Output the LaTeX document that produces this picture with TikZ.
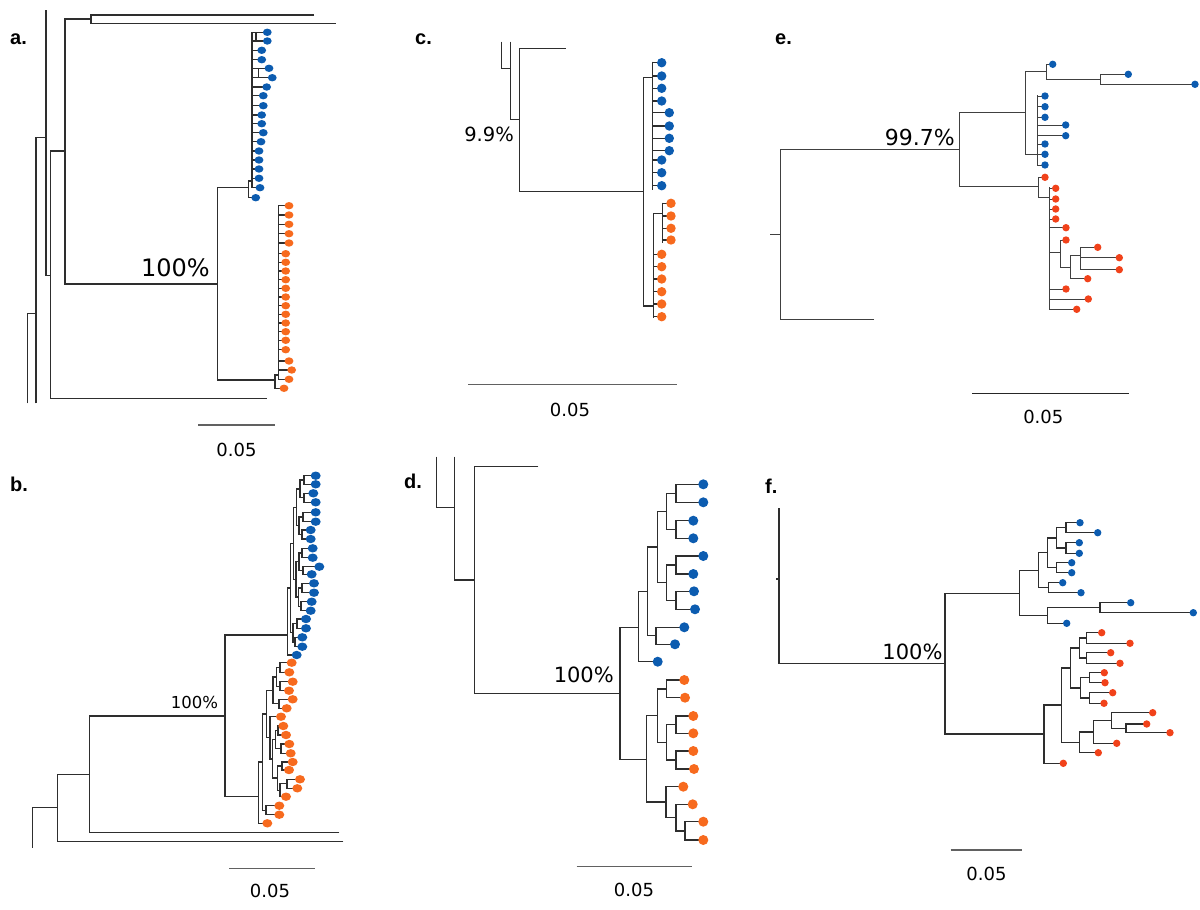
\documentclass[tikz,border=0pt]{standalone}
\usepackage{fontspec}
\setmainfont{DejaVu Sans}
\newfontfamily\labelfont{Liberation Sans}
\usepackage{tikz}
\usetikzlibrary{positioning, calc}

\definecolor{blueleaf}{RGB}{12,92,176}
\definecolor{orangeleaf}{RGB}{247,106,30}
\definecolor{redleaf}{RGB}{241,66,26}

\tikzset{
  branch/.style={line width=1.35pt, draw=black!82},
  scalebar/.style={line width=1.4pt, draw=black!62},
  panellabel/.style={font=\labelfont\bfseries\fontsize{20}{24}\selectfont, anchor=base west, inner sep=0pt},
  support/.style={font=\fontsize{#1}{#1}\selectfont, anchor=base east, inner sep=0pt},
  scaletext/.style={font=\fontsize{18}{20}\selectfont, anchor=base, inner sep=0pt},
}

% bracket of one internal node: node x, first child (x,y), second child (x,y)
\newcommand{\hook}[5]{\draw[branch] (#2,#3) -| (#1,#5) -- (#4,#5);}

\begin{document}
\begin{tikzpicture}[x=1pt, y=-1pt]
    \fill[white] (0,0) rectangle (1200,910);
    \useasboundingbox (0,0) rectangle (1200,910);

    % ---------------- panel a ----------------
    \node[panellabel] (lab-a) at (10,45) {a.};
    \draw[branch] (27.3,403.3) |- (36,313.3);
    \draw[branch] (36,403.3) |- (46,137.3);
    \draw[branch] (46,10) |- (50.7,275.7);
    \draw[branch] (266.7,398.3) -| (50.7,151) -- (65,151);
    \draw[branch] (91,19) -| (65,284) -- (217.3,284);
    \draw[branch] (314,15) -| (91,23.3) -- (336,23.3);
    \draw[branch] (248.3,187.7) -| (217.3,380) -- (275,380);

    % blue clade
    \draw[branch] (252,32.3) -- (252,187.7);
    \draw[branch] (252,181) -| (248.3,197.7) -- (255.7,197.7);
    \draw[branch] (256,32.3) -- (256,41);
    \draw[branch] (258.5,68.3) -- (258.5,77.7);
    \foreach \x/\y in {267.3/32.3,267.3/41,261.7/50.3,261.7/59.7,269/68.3,272.3/77.7,
        266.7/87,263.3/95.7,263.3/105.7,261.7/115,261.7/123.7,263.3/132.7,261/141.7,
        259/151,259/160,259/169,259/178.3,260/187.7,255.7/197.7}{
      \draw[branch] (252,\y) -- (\x,\y);
      \fill[blueleaf] (\x,\y) ellipse [x radius=4.4pt, y radius=3.7pt];
    }

    % orange clade
    \draw[branch] (278.3,205.7) -- (278.3,379.3);
    \draw[branch] (278.3,375) -| (275,388.3) -- (284,388.3);
    \foreach \x/\y in {289/205.7,289/215,289/224.3,289/233.7,289/243,285.7/253.7,
        285.7/262.3,285.7/271,285.7/279.7,285.7/288.3,285.7/297,285.7/305.7,
        285.7/314.3,285.7/323,285.7/331.7,285.7/340.3,285.7/349.7,289/361,
        291.7/370,289/379.3,284/388.3}{
      \draw[branch] (278.3,\y) -- (\x,\y);
      \fill[orangeleaf] (\x,\y) ellipse [x radius=4.4pt, y radius=3.7pt];
    }

    \node[support=24] (sup-a) at (210,276) {100\%};
    \draw[scalebar] (198,425) -- (275,425);
    \node[scaletext] (bar-a) at (236.5,456.7) {0.05};

    % ---------------- panel b ----------------
    \node[panellabel] (lab-b) at (10,491) {b.};
    \draw[branch] (32.7,847.7) |- (57.3,807.7);
    \draw[branch] (343.3,841.7) -| (57.3,774.3) -- (89.3,774.3);
    \draw[branch] (339.3,832.7) -| (89.3,716) -- (225,716);
    \draw[branch] (287.3,635) -| (225,796.7) -- (258.3,796.7);

    % blue clade
    \hook{304}{315.7}{475.7}{315.7}{484.3}
    \hook{304}{313.3}{493.3}{315.7}{502.3}
    \hook{300}{304}{480}{304}{497.8}
    \hook{303}{315.7}{512.3}{315.7}{521.7}
    \hook{302}{310.7}{530}{310.7}{539}
    \hook{299}{303}{517}{302}{534.5}
    \hook{296.5}{300}{488.9}{299}{525.8}
    \hook{302}{312.7}{548.3}{312.7}{557.7}
    \hook{303}{319.3}{566.7}{311.7}{574.3}
    \hook{299}{302}{553}{303}{570.5}
    \hook{302}{314}{583.3}{314}{592.7}
    \hook{301}{311.7}{601.7}{310.7}{610.7}
    \hook{298.5}{302}{588}{301}{606.2}
    \hook{296}{299}{561.8}{298.5}{597.1}
    \hook{293.5}{296.5}{507.3}{296}{579.4}
    \hook{297}{306}{619}{306}{628.3}
    \hook{295}{302.3}{637.3}{302.3}{646.7}
    \hook{293}{297}{623.7}{295}{642}
    \hook{290.5}{293.5}{543.4}{293}{632.8}
    \hook{287.3}{290.5}{588}{296.7}{655}
    \foreach \x/\y in {315.7/475.7,315.7/484.3,313.3/493.3,315.7/502.3,315.7/512.3,
        315.7/521.7,310.7/530,310.7/539,312.7/548.3,312.7/557.7,319.3/566.7,
        311.7/574.3,314/583.3,314/592.7,311.7/601.7,310.7/610.7,306/619,306/628.3,
        302.3/637.3,302.3/646.7,296.7/655}
      \fill[blueleaf] (\x,\y) ellipse [x radius=5pt, y radius=4.2pt];

    % orange clade
    \hook{280}{291.7}{662.7}{289.3}{672.3}
    \hook{280}{292.7}{681.7}{289}{690.7}
    \hook{276.5}{280}{667.5}{280}{686.2}
    \hook{279}{292.7}{699.3}{286.7}{708.3}
    \hook{273}{276.5}{676.9}{279}{703.8}
    \hook{278}{283.3}{726}{286}{735}
    \hook{281}{289.3}{744}{290.7}{753.3}
    \hook{275.5}{278}{730.5}{281}{748.7}
    \hook{282}{292.7}{762}{289}{770}
    \hook{287}{300}{779.3}{297.3}{788.3}
    \hook{280}{287}{783.8}{286}{796.7}
    \hook{277.5}{282}{766}{280}{790.3}
    \hook{272.5}{275.5}{739.6}{277.5}{778.1}
    \hook{270}{281}{716.7}{272.5}{758.9}
    \hook{266.5}{273}{690.3}{270}{737.8}
    \hook{266}{279.3}{805.7}{279.3}{814.7}
    \hook{262.3}{266.5}{714.1}{266}{810.2}
    \hook{258.3}{262.3}{762.1}{267.3}{823.3}
    \foreach \x/\y in {291.7/662.7,289.3/672.3,292.7/681.7,289/690.7,292.7/699.3,
        286.7/708.3,281/716.7,283.3/726,286/735,289.3/744,290.7/753.3,292.7/762,
        289/770,300/779.3,297.3/788.3,286/796.7,279.3/805.7,279.3/814.7,267.3/823.3}
      \fill[orangeleaf] (\x,\y) ellipse [x radius=5pt, y radius=4.2pt];

    \node[support=16.5] (sup-b) at (218.3,708.3) {100\%};
    \draw[scalebar] (229.3,868.3) -- (315,868.3);
    \node[scaletext] (bar-b) at (270,897.7) {0.05};

    % ---------------- panel c ----------------
    \node[panellabel] (lab-c) at (415,44) {c.};
    \draw[branch] (501.7,41.7) |- (510.7,68.3);
    \draw[branch] (510.7,41.7) |- (519.3,119.3);
    \draw[branch] (565.7,48.3) -| (519.3,191.7) -- (643.3,191.7);
    \draw[branch] (652.3,77.3) -| (643.3,306) -- (653.3,306);

    % blue clade
    \draw[branch] (652.3,61.7) -- (652.3,190);
    \foreach \x/\y in {661.7/62.7,661.7/76,661.7/88.3,661.7/101,669.3/112.7,669.3/126,
        669.3/138.3,669.3/150.7,661.7/160,661.7/172.7,661.7/185.7}{
      \draw[branch] (652.3,\y) -- (\x,\y);
      \fill[blueleaf] (\x,\y) circle [radius=4.7pt];
    }

    % orange clade
    \draw[branch] (662.7,213.3) -| (653.3,318.3);
    \draw[branch] (662.7,202.7) -- (662.7,242.7);
    \foreach \x/\y in {671/203.3,671/216,671/228.3,671/240}{
      \draw[branch] (662.7,\y) -- (\x,\y);
      \fill[orangeleaf] (\x,\y) circle [radius=4.7pt];
    }
    \foreach \x/\y in {661.7/254.3,661.7/266.7,661.7/279,661.7/291.7,661.7/304,661.7/316.7}{
      \draw[branch] (653.3,\y) -- (\x,\y);
      \fill[orangeleaf] (\x,\y) circle [radius=4.7pt];
    }

    \node[support=19.5] (sup-c) at (514,141.7) {9.9\%};
    \draw[scalebar, line width=1pt] (468.3,384.3) -- (676.7,384.3);
    \node[scaletext] (bar-c) at (570,416) {0.05};

    % ---------------- panel d ----------------
    \node[panellabel] (lab-d) at (404,488) {d.};
    \draw[branch] (436.7,456.7) |- (454.7,507.3);
    \draw[branch] (454.7,456.7) |- (474.3,580);
    \draw[branch] (538.3,466.7) -| (474.3,693.3) -- (620,693.3);
    \draw[branch] (638.3,627.3) -| (620,759.3) -- (646.7,759.3);

    % blue clade
    \hook{676}{703.3}{484.3}{703.3}{502.3}
    \hook{676}{693.3}{520.7}{693.3}{538.3}
    \hook{666.7}{676}{493.3}{676}{529.5}
    \hook{676}{703.3}{556}{693.3}{574}
    \hook{676}{694}{591.3}{695}{609.3}
    \hook{666.7}{676}{565}{676}{600.3}
    \hook{657.3}{666.7}{511.4}{666.7}{582.7}
    \hook{656}{684.3}{627.3}{675}{644.3}
    \hook{647.3}{657.3}{547}{656}{635.8}
    \hook{638.3}{647.3}{591.4}{657.7}{661.7}
    \foreach \x/\y in {703.3/484.3,703.3/502.3,693.3/520.7,693.3/538.3,703.3/556,
        693.3/574,694/591.3,695/609.3,684.3/627.3,675/644.3,657.7/661.7}
      \fill[blueleaf] (\x,\y) circle [radius=5pt];

    % orange clade
    \hook{666.7}{684.3}{680}{685}{697.7}
    \hook{676}{693.3}{716}{693.3}{733.3}
    \hook{676}{693.3}{751}{694}{769}
    \hook{666.7}{676}{724.7}{676}{760}
    \hook{657.3}{666.7}{688.9}{666.7}{742.3}
    \hook{685}{703.3}{821.7}{703.3}{840}
    \hook{676}{692.7}{804.3}{685}{830.9}
    \hook{666}{683.3}{786.7}{676}{817.6}
    \hook{646.7}{657.3}{715.6}{666}{802.1}
    \foreach \x/\y in {684.3/680,685/697.7,693.3/716,693.3/733.3,693.3/751,694/769,
        683.3/786.7,692.7/804.3,703.3/821.7,703.3/840}
      \fill[orangeleaf] (\x,\y) circle [radius=5pt];

    \node[support=21] (sup-d) at (614,682.3) {100\%};
    \draw[scalebar] (576.7,866.7) -- (691.7,866.7);
    \node[scaletext] (bar-d) at (634,896.7) {0.05};

    % ---------------- panel e ----------------
    \node[panellabel] (lab-e) at (775,45) {e.};
    \begin{scope}[branch/.style={line width=1pt, draw=black!75}]
    \draw[branch] (770,234.3) -- (780,234.3);
    \draw[branch] (874,319.3) -| (780,149.3) -- (959.3,149.3);
    \draw[branch] (1025.7,112.7) -| (959.3,186.7) -- (1038.3,186.7);

    % blue clade
    \hook{1100.7}{1128.3}{74.3}{1195}{84.3}
    \hook{1046}{1052.7}{64.3}{1100.7}{79.3}
    \draw[branch] (1046,71.8) -| (1025.7,154) -- (1037.3,154);
    \draw[branch] (1037.3,95) -- (1037.3,166);
    \foreach \x/\y in {1045/96,1045/106.7,1045/117.3,1065.7/125,1065.7/135.7,
        1045/144,1045/154.3,1045/165}
      \draw[branch] (1037.3,\y) -- (\x,\y);

    % red clade
    \draw[branch] (1045,177.3) -| (1038.3,197.3) -- (1049.3,197.3);
    \draw[branch] (1049.3,187.3) -- (1049.3,309.3);
    \foreach \x/\y in {1055.7/188.3,1055.7/199,1055.7/209,1055.7/219,1066/227.7,
        1066/289,1088.3/299,1076.7/309.3,1060/252.3}
      \draw[branch] (1049.3,\y) -- (\x,\y);
    \draw[branch] (1066,240) -| (1060,267.7) -- (1070.7,267.7);
    \draw[branch] (1080.7,255.7) -| (1070.7,278.7) -- (1087.7,278.7);
    \draw[branch] (1080.7,247.3) -- (1080.7,269.7);
    \foreach \x/\y in {1097.7/247.3,1119.3/257.7,1119.3/269.7}
      \draw[branch] (1080.7,\y) -- (\x,\y);
    \end{scope}
    \foreach \x/\y in {1052.7/64.3,1128.3/74.3,1195/84.3,1045/96,1045/106.7,1045/117.3,
        1065.7/125,1065.7/135.7,1045/144,1045/154.3,1045/165}
      \fill[blueleaf] (\x,\y) circle [radius=3.7pt];
    \foreach \x/\y in {1045/177.3,1055.7/188.3,1055.7/199,1055.7/209,1055.7/219,
        1066/227.7,1066/240,1097.7/247.3,1119.3/257.7,1119.3/269.7,1087.7/278.7,
        1066/289,1088.3/299,1076.7/309.3}
      \fill[redleaf] (\x,\y) circle [radius=3.7pt];

    \node[support=22] (sup-e) at (955,145.3) {99.7\%};
    \draw[scalebar, draw=black!85] (972.3,393.3) -- (1129.3,393.3);
    \node[scaletext] (bar-e) at (1043.3,423.3) {0.05};

    % ---------------- panel f ----------------
    \node[panellabel] (lab-f) at (765,493) {f.};
    \draw[branch] (779,508.3) |- (945,663.3);
    \draw[branch] (776,579) -- (779,579);
    \draw[branch] (1019.3,593.3) -| (945,734) -- (1044,734);

    % blue clade
    \hook{1066}{1080}{522.7}{1097.7}{532.7}
    \hook{1066}{1079.3}{542.7}{1079.3}{553.3}
    \hook{1056.7}{1066}{527.7}{1066}{548}
    \hook{1056.7}{1071.7}{562.7}{1071.7}{572.7}
    \hook{1047.3}{1056.7}{537.9}{1056.7}{567.7}
    \hook{1048.3}{1062.7}{582.7}{1081}{592.7}
    \hook{1038.3}{1047.3}{552.8}{1048.3}{587.7}
    \hook{1100}{1130.7}{602.7}{1193.3}{612.7}
    \hook{1047.3}{1100}{607.7}{1066.7}{623.3}
    \hook{1019.3}{1038.3}{570.3}{1047.3}{615.5}
    \foreach \x/\y in {1080/522.7,1097.7/532.7,1079.3/542.7,1079.3/553.3,1071.7/562.7,
        1071.7/572.7,1062.7/582.7,1081/592.7,1130.7/602.7,1193.3/612.7,1066.7/623.3}
      \fill[blueleaf] (\x,\y) circle [radius=3.7pt];

    % red clade
    \hook{1086.7}{1101.7}{632.7}{1130}{643.3}
    \hook{1086.7}{1110.7}{652.7}{1120}{663.3}
    \hook{1079.3}{1086.7}{638}{1086.7}{658}
    \hook{1089.3}{1104.3}{672.7}{1105}{682.7}
    \hook{1089.3}{1112.7}{692.7}{1104}{703.3}
    \hook{1080.7}{1089.3}{677.7}{1089.3}{698}
    \hook{1070.7}{1079.3}{648}{1080.7}{687.9}
    \hook{1126}{1146.7}{724}{1170}{732.7}
    \hook{1111.7}{1152.7}{712.7}{1126}{728.4}
    \hook{1093.3}{1111.7}{720.5}{1116.7}{743.3}
    \hook{1079.3}{1093.3}{731.9}{1098.3}{752.7}
    \hook{1061.7}{1070.7}{667.9}{1079.3}{742.3}
    \hook{1044}{1061.7}{705.1}{1063.3}{763.3}
    \foreach \x/\y in {1101.7/632.7,1130/643.3,1110.7/652.7,1120/663.3,1104.3/672.7,
        1105/682.7,1112.7/692.7,1104/703.3,1152.7/712.7,1146.7/724,1170/732.7,
        1116.7/743.3,1098.3/752.7,1063.3/763.3}
      \fill[redleaf] (\x,\y) circle [radius=3.7pt];

    \node[support=21] (sup-f) at (942.7,659.3) {100\%};
    \draw[scalebar] (950.7,850) -- (1022.3,850);
    \node[scaletext] (bar-f) at (986.5,880) {0.05};

\end{tikzpicture}
\end{document}
